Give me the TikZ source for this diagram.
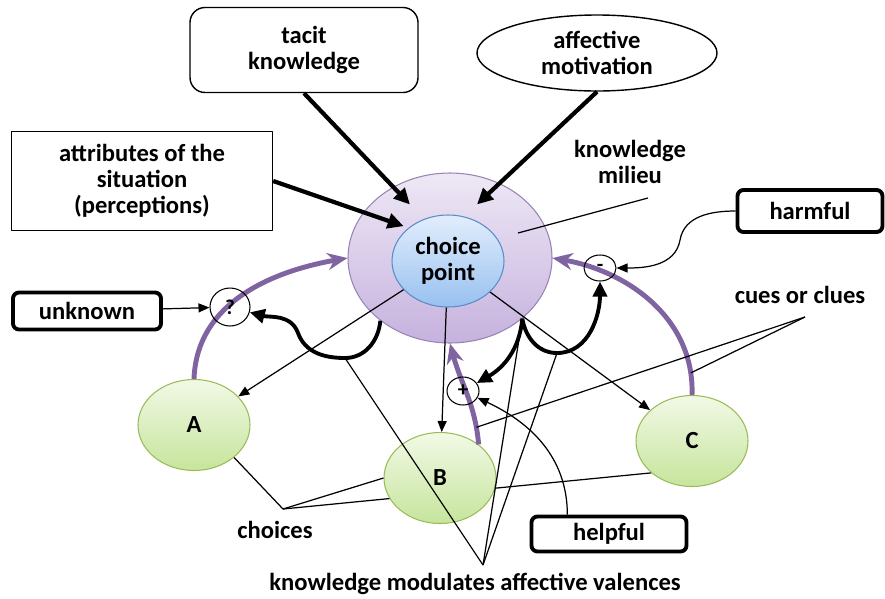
\documentclass[tikz,border=0pt]{standalone}
\usepackage{fontspec}
\setmainfont{Carlito}
\usetikzlibrary{shapes.geometric,arrows.meta,backgrounds}
\definecolor{vio}{HTML}{8064A2}
\definecolor{milt}{HTML}{EEE8F5}
\definecolor{milb}{HTML}{C6B2DE}
\definecolor{cpt}{HTML}{E2EEFC}
\definecolor{cpb}{HTML}{98C0F0}
\definecolor{cpd}{HTML}{5B8BCB}
\definecolor{grt}{HTML}{F2F9E6}
\definecolor{grb}{HTML}{C6E59C}
\definecolor{grd}{HTML}{9BBB59}
\tikzset{t/.style={font=\bfseries\fontsize{14}{14.7}\selectfont, align=center}}
\tikzset{s/.style={font=\bfseries\fontsize{12}{12}\selectfont}}
\tikzset{bx/.style={t, draw, line width=.8pt, inner sep=0pt}}
\tikzset{lab/.style={t, draw, line width=2.2pt, rounded corners=1.2mm, inner sep=0pt}}
\tikzset{val/.style={s, draw, ellipse, line width=.6pt, inner sep=0pt}}
\tikzset{ch/.style={t, ellipse, draw=grd, line width=.6pt, top color=grt, bottom color=grb, minimum width=22.4mm, minimum height=18.2mm, inner sep=0pt}}
\tikzset{ln/.style={line width=.7pt}}
\tikzset{ar/.style={line width=.7pt, -{Triangle[length=2.2mm,width=1.8mm]}}}
\tikzset{hv/.style={line width=2.4pt, -{Triangle[length=3.2mm,width=3mm]}}}
\tikzset{bk/.style={line width=2.2pt, -{Triangle[length=3mm,width=2.8mm]}}}
\tikzset{pa/.style={draw=vio, line width=2.8pt, -{Stealth[length=4mm,width=3.4mm]}}}

\begin{document}
\begin{tikzpicture}[x=0.2mm, y=-0.2mm, line join=round]
\useasboundingbox (0,0) rectangle (885,598);
\node[ellipse, draw=vio!80, line width=.6pt, top color=milt, bottom color=milb, minimum width=40.8mm, minimum height=34mm, inner sep=0pt] (milieu) at (450,258) {};
\node[t, ellipse, draw=cpd, line width=.6pt, top color=cpt, bottom color=cpb, minimum width=22.4mm, minimum height=18.4mm, inner sep=0pt] (cp) at (448,261) {choice\\point};
\node[ch] (A) at (194,425) {A};
\node[ch] (B) at (440,478) {B};
\node[ch] (C) at (692,441) {C};
\node[bx, rounded corners=3mm, minimum width=45.6mm, minimum height=17mm] (tacit) at (304,50) {tacit\\knowledge};
\node[bx, ellipse, minimum width=48mm, minimum height=15.2mm] (aff) at (597,53) {affective\\motivation};
\node[bx, minimum width=52.2mm, minimum height=19.8mm] (attr) at (142,181) {attributes of the\\situation\\(perceptions)};
\node[t] (kmil) at (630,162) {knowledge\\milieu};
\node[lab, minimum width=29.6mm, minimum height=7.4mm] (unk) at (87,311) {unknown};
\node[lab, minimum width=29mm, minimum height=8.4mm] (harm) at (810,211) {harmful};
\node[lab, minimum width=31mm, minimum height=7mm] (help) at (609,534) {helpful};
\node[t] (cues) at (800,295) {cues or clues};
\node[t] (choices) at (275,530) {choices};
\node[t] (kmod) at (475,584) {knowledge modulates affective valences};
\coordinate (chs) at (283,509);
\coordinate (kmp) at (483,565);
\coordinate (cuep) at (805,317);
\coordinate (ul) at (345,358);
\coordinate (ur) at (557,353);
\coordinate (mp) at (518,233);

\draw[hv] (tacit.south) -- (cp.120) [shorten >=4mm];
\draw[hv, shorten >=3.5mm] (aff.south) -- (cp.70);
\draw[hv, shorten >=1mm] (attr.east) -- (cp.140);
\draw[ln] (kmil) ++(18,36) -- (mp);

\draw[pa] (A.north) to[out=88,in=190] (milieu.west);
\draw[pa] (C.north) to[out=88,in=-10] coordinate[pos=.1] (ca) (milieu.east);
\draw[pa] (B.41) to[out=95,in=-75] coordinate[pos=.15] (ba) (milieu.south);

\node[val, minimum width=8mm, minimum height=7.6mm] (q) at (230,307) {?};
\node[val, minimum width=6.4mm, minimum height=5.2mm] (minus) at (600,268) {-};
\node[val, minimum width=6.4mm, minimum height=5.6mm] (plus) at (463,391) {+};

\draw[ar] (cp) -- (A);
\draw[ar] (cp) -- (B);
\draw[ar] (cp) -- (C);

\draw[bk] (milieu.222) to[out=-95,in=0] (ul) to[out=180,in=-70] (298,333) to[out=110,in=-15] (q);
\draw[bk] (milieu.-40) to[out=-95,in=30] (plus);
\draw[bk] (milieu.-40) to[out=-80,in=180] (ur) to[out=0,in=-90] (minus);

\draw[ar] (unk) -- (q);
\draw[ar] (harm.west) to[out=180,in=80] (680,240) to[out=-100,in=0] (minus);
\draw[ar] (help.155) to[out=90,in=-25] (plus);

\draw[ln] (chs) -- (A.-39);
\draw[ln] (chs) -- (B.west);
\begin{pgfonlayer}{background}
\draw[ln] (chs) -- (C.218);
\end{pgfonlayer}
\draw[ln] (kmp) -- (ul);
\draw[ln] (kmp) -- (milieu.-40);
\draw[ln] (kmp) -- (ur);
\draw[ln] (cuep) -- (ca);
\draw[ln] (cuep) -- (ba);
\end{tikzpicture}
\end{document}
